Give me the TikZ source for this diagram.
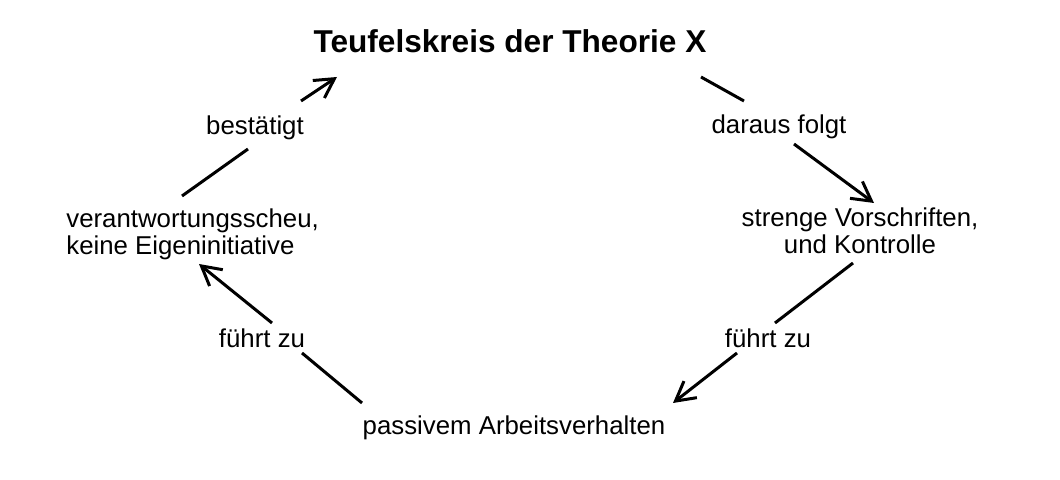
\documentclass[tikz,border=0pt]{standalone}
\usepackage{fontspec}
\setmainfont{Liberation Sans}
\usetikzlibrary{arrows.meta}
\tikzset{
  lbl/.style={inner sep=0pt, anchor=base, font=\fontsize{12.9bp}{13.5bp}\selectfont},
  seg/.style={line width=1.5bp},
  arr/.style={seg, -{Straight Barb[length=9.5bp,width=10.5bp]}}
}

\begin{document}
\begin{tikzpicture}[x=0.5bp,y=-0.5bp]
\useasboundingbox[fill=white] (0,0) rectangle (1060,480);
% Kreis der Aussagen
\node[lbl, font=\fontsize{15.8bp}{18bp}\selectfont\bfseries] (titel) at (510,53) {Teufelskreis der Theorie X};
\node[lbl, anchor=base west, align=left] (verant) at (66,255) {verantwortungsscheu,\\keine Eigeninitiative};
\node[lbl, align=center] (strenge) at (860,254) {strenge Vorschriften,\\und Kontrolle};
\node[lbl] (passiv) at (514,435) {passivem Arbeitsverhalten};
% Beschriftungen der Pfeile
\node[lbl] (bestaetigt) at (255,135) {bestätigt};
\node[lbl] (daraus) at (779,134) {daraus folgt};
\node[lbl] (fuehrtR) at (768,348) {führt zu};
\node[lbl] (fuehrtL) at (262,348) {führt zu};
% Pfeile, jeweils zweiteilig
\draw[seg] ([shift={(116,-59)}]verant.base west) -- ([shift={(-7,14)}]bestaetigt.base);
\draw[arr] ([shift={(46,-34)}]bestaetigt.base) -- ([shift={(-173,24)}]titel.base);
\draw[seg] ([shift={(191,24)}]titel.base) -- ([shift={(-35,-33)}]daraus.base);
\draw[arr] ([shift={(15,10)}]daraus.base) -- ([shift={(14,-51)}]strenge.base);
\draw[seg] ([shift={(-7,9)}]strenge.base) -- ([shift={(7,-25)}]fuehrtR.base);
\draw[arr] ([shift={(-31,5)}]fuehrtR.base) -- ([shift={(159,-32)}]passiv.base);
\draw[seg] ([shift={(-152,-32)}]passiv.base) -- ([shift={(40,5)}]fuehrtL.base);
\draw[arr] ([shift={(10,-25)}]fuehrtL.base) -- ([shift={(133,9)}]verant.base west);
\end{tikzpicture}
\end{document}
